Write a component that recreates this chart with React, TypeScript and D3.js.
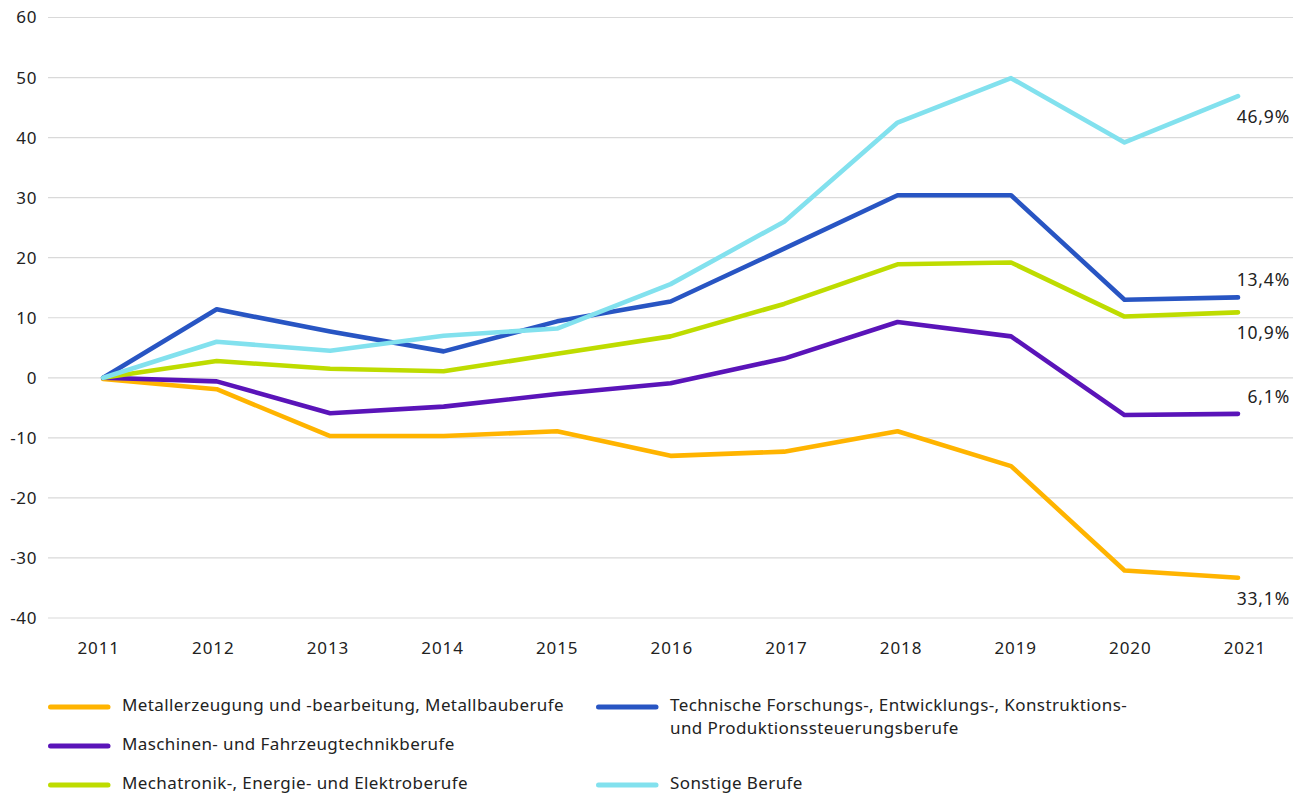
import React from "react";
import * as d3 from "d3";

const years = ["2011", "2012", "2013", "2014", "2015", "2016", "2017", "2018", "2019", "2020", "2021"];

const metall = [-0.2, -1.9, -9.7, -9.7, -8.9, -13.0, -12.3, -8.9, -14.7, -32.1, -33.3];
const maschinen = [0, -0.6, -5.9, -4.8, -2.7, -0.9, 3.2, 9.3, 6.9, -6.2, -6.0];
const mechatronik = [0, 2.8, 1.5, 1.1, 4.0, 6.9, 12.3, 18.9, 19.2, 10.2, 10.9];
const technische = [0, 11.4, 7.7, 4.4, 9.4, 12.7, 21.5, 30.4, 30.4, 13.0, 13.4];
const sonstige = [0, 6.0, 4.5, 7.0, 8.2, 15.6, 26.0, 42.5, 49.9, 39.2, 46.9];

const seriesNames = [
  "Metallerzeugung und -bearbeitung, Metallbauberufe",
  "Maschinen- und Fahrzeugtechnikberufe",
  "Mechatronik-, Energie- und Elektroberufe",
  "Technische Forschungs-, Entwicklungs-, Konstruktions-\nund Produktionssteuerungsberufe",
  "Sonstige Berufe",
];
const seriesColors = ["#FFB400", "#5A14B9", "#BEDC00", "#2855C3", "#82E1EE"];
const endLabels = ["33,1%", "6,1%", "10,9%", "13,4%", "46,9%"];
const endLabelSide = ["below", "above", "below", "above", "below"];

const yTicks = [60, 50, 40, 30, 20, 10, 0, -10, -20, -30, -40];

const W = 1304;
const H = 794;
const FONT = "'Noto Sans', 'Open Sans', sans-serif";
const TEXT = "#222222";

export default function App() {
  const allSeries = [metall, maschinen, mechatronik, technische, sonstige];
  const plotLeft = 48;
  const plotRight = 1293;

  const y = d3.scaleLinear().domain([-40, 60]).range([618, 17.5]);
  const x = d3.scalePoint<string>().domain(years).range([103.2, 1238]);
  const xLabel = d3.scalePoint<string>().domain(years).range([98.7, 1245]);

  const line = d3
    .line<number>()
    .x((_, i) => x(years[i]) as number)
    .y((d) => y(d));

  const drawOrder = [0, 1, 2, 3, 4];

  const legendCol = [
    { sx: 48, tx: 122 },
    { sx: 596, tx: 670 },
  ];
  const legendRows = [707, 746, 785];
  const legendPos = [
    { col: 0, row: 0 },
    { col: 0, row: 1 },
    { col: 0, row: 2 },
    { col: 1, row: 0 },
    { col: 1, row: 2 },
  ];

  return (
    <div style={{ position: "absolute", left: 0, top: 0 }}>
      <svg width={W} height={H} style={{ display: "block", background: "#fff" }}>
        {yTicks.map((t) => (
          <g key={t}>
            <line x1={plotLeft} x2={plotRight} y1={y(t)} y2={y(t)} stroke="#d9d9d9" strokeWidth={1.2} />
            <text
              x={37}
              y={y(t)}
              dy="0.35em"
              textAnchor="end"
              fontFamily={FONT}
              fontSize={17}
              letterSpacing={0.6}
              fill={TEXT}
            >
              {t}
            </text>
          </g>
        ))}
        {years.map((yr) => (
          <text
            key={yr}
            x={xLabel(yr)}
            y={648}
            dy="0.35em"
            textAnchor="middle"
            fontFamily={FONT}
            fontSize={17}
            letterSpacing={0.9}
            fill={TEXT}
          >
            {yr}
          </text>
        ))}
        {drawOrder.map((i) => (
          <path
            key={i}
            d={line(allSeries[i]) as string}
            fill="none"
            stroke={seriesColors[i]}
            strokeWidth={4.6}
            strokeLinejoin="round"
            strokeLinecap="round"
          />
        ))}
        {allSeries.map((s, i) => {
          const last = s[s.length - 1];
          const py = y(last);
          const ly = endLabelSide[i] === "below" ? py + 21 : py - 17;
          return (
            <text
              key={"lab" + i}
              x={1290}
              y={ly}
              dy="0.35em"
              textAnchor="end"
              fontFamily={FONT}
              fontSize={17.5}
              letterSpacing={0.8}
              fill={TEXT}
            >
              {endLabels[i]}
            </text>
          );
        })}
        {seriesNames.map((name, i) => {
          const p = legendPos[i];
          const c = legendCol[p.col];
          const ry = legendRows[p.row];
          const lines = name.split("\n");
          return (
            <g key={"leg" + i}>
              <line
                x1={c.sx + 2.5}
                x2={c.sx + 60}
                y1={ry}
                y2={ry}
                stroke={seriesColors[i]}
                strokeWidth={5}
                strokeLinecap="round"
              />
              {lines.map((ln, k) => (
                <text
                  key={k}
                  x={c.tx}
                  y={ry - 2 + k * 23}
                  dy="0.35em"
                  fontFamily={FONT}
                  fontSize={17}
                  letterSpacing={0.4}
                  fill={TEXT}
                >
                  {ln}
                </text>
              ))}
            </g>
          );
        })}
      </svg>
    </div>
  );
}
